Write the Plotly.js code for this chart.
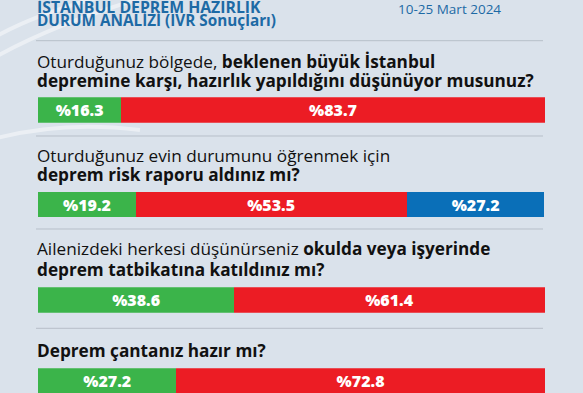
<!DOCTYPE html>
<html>
<head>
<meta charset="utf-8">
<script src="https://cdn.plot.ly/plotly-3.0.1.min.js"></script>
<style>
  html, body { margin: 0; padding: 0; background: #dae2eb; }
  #chart { width: 583px; height: 393px; }
</style>
</head>
<body>
<div id="chart"></div>
<script>
// ---- data ----
const headerLines = ["İSTANBUL DEPREM HAZIRLIK", "DURUM ANALİZİ (IVR Sonuçları)"];
const dateText = "10-25 Mart 2024";
const questionLines = [
  ["Oturduğunuz bölgede, <b>beklenen büyük İstanbul</b>", "<b>depremine karşı, hazırlık yapıldığını düşünüyor musunuz?</b>"],
  ["Oturduğunuz evin durumunu öğrenmek için", "<b>deprem risk raporu aldınız mı?</b>"],
  ["Ailenizdeki herkesi düşünürseniz <b>okulda veya işyerinde</b>", "<b>deprem tatbikatına katıldınız mı?</b>"],
  ["<b>Deprem çantanız hazır mı?</b>"]
];
const greenValues = [16.3, 19.2, 38.6, 27.2];
const redValues   = [83.7, 53.5, 61.4, 72.8];
const blueValues  = [null, 27.2, null, null];

// ---- layout constants (pixels in a 583x393 frame) ----
const W = 583, H = 393;
const FONT = "Open Sans, sans-serif";
const seriesColors = ["#3bb44a", "#ec1c24", "#0a6fb8"];
const series = [greenValues, redValues, blueValues];
const barTops = [97.3, 192, 287.3, 368.3];
const barH = 25.4;
const lineY = [[61, 80.5], [155, 174.5], [249, 269], [350.5]];
const sepY = [40.7, 136, 229, 328.3];
const plotLeft = 38.3, plotRight = 545;

const py = p => 1 - p / H;
const px = p => p / W;

// x range so that 0 -> plotLeft, 100 -> plotRight
const span = 100 * W / (plotRight - plotLeft);
const x0 = -plotLeft / W * span;
const xr = [x0, x0 + span];

const traces = [];
const layout = {
  width: W, height: H,
  margin: {l: 0, r: 0, t: 0, b: 0, pad: 0},
  paper_bgcolor: "#dae2eb",
  plot_bgcolor: "rgba(0,0,0,0)",
  barmode: "stack",
  bargap: 0,
  showlegend: false,
  xaxis: {range: xr, visible: false, fixedrange: true},
  annotations: [],
  shapes: []
};

questionLines.forEach((q, i) => {
  const axName = i === 0 ? "yaxis" : "yaxis" + (i + 1);
  const axRef = i === 0 ? "y" : "y" + (i + 1);
  layout[axName] = {
    domain: [Math.max(0, py(barTops[i] + barH)), py(barTops[i])],
    anchor: "x", visible: false, fixedrange: true
  };
  series.forEach((s, k) => {
    const v = s[i];
    if (v === null || v === undefined) return;
    traces.push({
      type: "bar", orientation: "h",
      x: [v], y: ["q" + (i + 1)],
      xaxis: "x", yaxis: axRef,
      marker: {color: seriesColors[k], line: {width: 0}},
      text: ["%" + v.toFixed(1)],
      textposition: "inside",
      insidetextanchor: "middle",
      constraintext: "none",
      textangle: 0,
      textfont: {family: FONT, size: 16, color: "#ffffff", weight: 800},
      hoverinfo: "skip"
    });
  });
  q.forEach((line, j) => {
    layout.annotations.push({
      text: line, xref: "paper", yref: "paper",
      x: px(35), y: py(lineY[i][j]), xanchor: "left", yanchor: "middle",
      showarrow: false,
      font: {family: FONT, size: 17.2, color: "#111111"}
    });
  });
});

// header texts
layout.annotations.push({
  text: "<b>" + headerLines[0] + "</b>", xref: "paper", yref: "paper",
  x: px(35), y: py(6.5), xanchor: "left", yanchor: "middle", showarrow: false,
  font: {family: FONT, size: 15.8, color: "#1d6aa5"}
});
layout.annotations.push({
  text: "<b>" + headerLines[1] + "</b>", xref: "paper", yref: "paper",
  x: px(35), y: py(20), xanchor: "left", yanchor: "middle", showarrow: false,
  font: {family: FONT, size: 15.3, color: "#1d6aa5"}
});
layout.annotations.push({
  text: dateText, xref: "paper", yref: "paper",
  x: px(449), y: py(9), xanchor: "center", yanchor: "middle", showarrow: false,
  font: {family: FONT, size: 13.5, color: "#1d6aa5"}
});

// separators
sepY.forEach(y => {
  layout.shapes.push({
    type: "line", xref: "paper", yref: "paper", layer: "below",
    x0: px(36), x1: px(543), y0: py(y), y1: py(y),
    line: {color: "#b7bfc9", width: 1}
  });
});

// decorative faint swooshes on the left
const swooshes = [
  "M -10 40 Q 40 10 130 -10",
  "M -10 60 Q 60 20 170 -10",
  "M -10 140 Q 60 120 140 130"
];
swooshes.forEach(d => {
  layout.shapes.push({
    type: "path", xref: "paper", yref: "paper", layer: "below",
    path: d.replace(/(-?\d+(\.\d+)?) (-?\d+(\.\d+)?)/g, (m, a, _b, c) => px(+a) + "," + py(+c)),
    line: {color: "rgba(255,255,255,0.45)", width: 4}
  });
});

Plotly.newPlot("chart", traces, layout, {staticPlot: true, displayModeBar: false});
</script>
</body>
</html>
